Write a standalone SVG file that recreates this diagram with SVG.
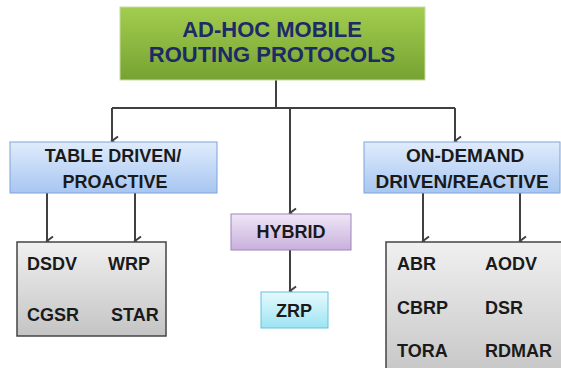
<svg xmlns="http://www.w3.org/2000/svg" width="561" height="368" viewBox="0 0 561 368">
<style>
.t{font-family:"Liberation Sans",Arial,sans-serif;font-weight:bold;text-anchor:middle;fill:#1a1a1a}
.l{font-family:"Liberation Sans",Arial,sans-serif;font-weight:bold;fill:#1a1a1a;font-size:18px}
.c{fill:none;stroke:#404040;stroke-width:2}
</style>
<defs>
<linearGradient id="gG" x1="0" y1="0" x2="0" y2="1"><stop offset="0" stop-color="#a3cd4f"/><stop offset="1" stop-color="#76a232"/></linearGradient>
<linearGradient id="gB" x1="0" y1="0" x2="0" y2="1"><stop offset="0" stop-color="#e0ecfc"/><stop offset="1" stop-color="#a7c6f1"/></linearGradient>
<linearGradient id="gP" x1="0" y1="0" x2="0" y2="1"><stop offset="0" stop-color="#efe6f6"/><stop offset="1" stop-color="#c8b0dc"/></linearGradient>
<linearGradient id="gC" x1="0" y1="0" x2="0" y2="1"><stop offset="0" stop-color="#e6f9fd"/><stop offset="1" stop-color="#9de4f4"/></linearGradient>
<linearGradient id="gS" x1="0" y1="0" x2="0" y2="1"><stop offset="0" stop-color="#f0f0f0"/><stop offset="1" stop-color="#c4c4c4"/></linearGradient>
<marker id="ar" markerWidth="12" markerHeight="10" refX="5" refY="8" orient="auto-start-reverse" markerUnits="userSpaceOnUse" viewBox="0 0 10 10">
<path d="M0.5,2 L5,8 L9.5,2" fill="none" stroke="#404040" stroke-width="2"/>
</marker>
</defs>
<g id="connectors">
<path class="c" d="M276,80 V108"/>
<path class="c" d="M112,108 H455"/>
<path class="c" d="M112,108 V141" marker-end="url(#ar)"/>
<path class="c" d="M290,108 V213" marker-end="url(#ar)"/>
<path class="c" d="M455,108 V141" marker-end="url(#ar)"/>
<path class="c" d="M47,193 V241" marker-end="url(#ar)"/>
<path class="c" d="M135,193 V241" marker-end="url(#ar)"/>
<path class="c" d="M423,193 V241" marker-end="url(#ar)"/>
<path class="c" d="M520,193 V241" marker-end="url(#ar)"/>
<path class="c" d="M290,250 V291" marker-end="url(#ar)"/>
</g>
<g id="root">
<rect x="120" y="7" width="305" height="73" fill="url(#gG)" stroke="#c8dca0" stroke-width="1"/>
<text class="t" x="272" y="37" font-size="22" style="fill:#1c2a66">AD-HOC MOBILE</text>
<text class="t" x="272" y="62" font-size="22" style="fill:#1c2a66">ROUTING PROTOCOLS</text>
</g>
<g id="table-driven">
<rect x="10" y="142" width="207" height="51" fill="url(#gB)" stroke="#7fa3d9" stroke-width="1"/>
<text class="t" x="113" y="162" font-size="18">TABLE DRIVEN/</text>
<text class="t" x="115" y="188" font-size="18">PROACTIVE</text>
</g>
<g id="on-demand">
<rect x="364" y="142" width="196" height="51" fill="url(#gB)" stroke="#7fa3d9" stroke-width="1"/>
<text class="t" x="465" y="162" font-size="19">ON-DEMAND</text>
<text class="t" x="462" y="188" font-size="19">DRIVEN/REACTIVE</text>
</g>
<g id="hybrid">
<rect x="231" y="214" width="120" height="36" fill="url(#gP)" stroke="#9c84b8" stroke-width="1"/>
<text class="t" x="291" y="238" font-size="18">HYBRID</text>
</g>
<g id="zrp">
<rect x="261" y="292" width="67" height="36" fill="url(#gC)" stroke="#62c4da" stroke-width="1"/>
<text class="t" x="294" y="317" font-size="18">ZRP</text>
</g>
<g id="table-protocols">
<rect x="17" y="242" width="149" height="94" fill="url(#gS)" stroke="#444" stroke-width="1.5"/>
<text class="l" x="27" y="270">DSDV</text>
<text class="l" x="108" y="270">WRP</text>
<text class="l" x="27" y="321">CGSR</text>
<text class="l" x="111" y="321">STAR</text>
</g>
<g id="demand-protocols">
<rect x="386" y="242" width="190" height="140" fill="url(#gS)" stroke="#444" stroke-width="1.5"/>
<text class="l" x="397" y="270">ABR</text>
<text class="l" x="485" y="270">AODV</text>
<text class="l" x="397" y="314">CBRP</text>
<text class="l" x="485" y="314">DSR</text>
<text class="l" x="397" y="357">TORA</text>
<text class="l" x="485" y="357">RDMAR</text>
</g>
</svg>
